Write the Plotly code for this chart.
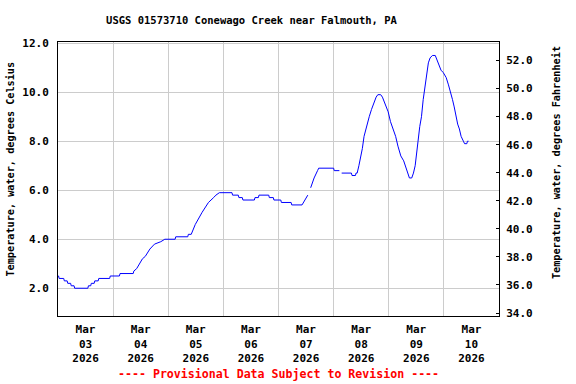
import plotly.graph_objects as go

# ---- data ----
times = [
    "2026-03-03 00:00", "2026-03-03 00:15", "2026-03-03 00:30", "2026-03-03 02:30", "2026-03-03 02:45",
    "2026-03-03 04:00", "2026-03-03 04:15", "2026-03-03 05:30", "2026-03-03 05:45", "2026-03-03 07:00",
    "2026-03-03 07:15", "2026-03-03 13:00", "2026-03-03 13:15", "2026-03-03 14:15", "2026-03-03 14:30",
    "2026-03-03 15:45", "2026-03-03 16:00", "2026-03-03 17:30", "2026-03-03 17:45", "2026-03-03 22:30",
    "2026-03-03 22:45", "2026-03-04 02:45", "2026-03-04 03:00", "2026-03-04 08:45", "2026-03-04 09:00",
    "2026-03-04 10:15", "2026-03-04 12:45", "2026-03-04 14:00", "2026-03-04 16:00", "2026-03-04 17:00",
    "2026-03-04 18:00", "2026-03-04 20:45", "2026-03-04 22:30", "2026-03-05 03:00", "2026-03-05 03:15",
    "2026-03-05 08:30", "2026-03-05 08:45", "2026-03-05 10:00", "2026-03-05 11:45", "2026-03-05 14:45",
    "2026-03-05 17:30", "2026-03-05 19:45", "2026-03-05 20:45", "2026-03-05 22:15", "2026-03-06 03:45",
    "2026-03-06 04:00", "2026-03-06 06:30", "2026-03-06 06:45", "2026-03-06 08:15", "2026-03-06 08:30",
    "2026-03-06 13:30", "2026-03-06 13:45", "2026-03-06 15:15", "2026-03-06 15:30", "2026-03-06 19:45",
    "2026-03-06 20:00", "2026-03-06 21:45", "2026-03-06 22:00", "2026-03-07 01:00", "2026-03-07 01:15",
    "2026-03-07 05:30", "2026-03-07 05:45", "2026-03-07 10:15", "2026-03-07 11:30", "2026-03-07 12:45",
    "2026-03-07 13:15",
    "2026-03-07 14:00", "2026-03-07 15:30", "2026-03-07 17:00", "2026-03-07 17:30", "2026-03-08 00:00",
    "2026-03-08 00:15", "2026-03-08 02:30",
    "2026-03-08 03:00",
    "2026-03-08 03:30", "2026-03-08 07:45", "2026-03-08 08:00", "2026-03-08 09:30", "2026-03-08 09:45",
    "2026-03-08 10:15", "2026-03-08 11:00", "2026-03-08 11:45", "2026-03-08 12:30", "2026-03-08 13:15",
    "2026-03-08 14:00", "2026-03-08 14:45", "2026-03-08 15:30", "2026-03-08 16:30", "2026-03-08 17:30",
    "2026-03-08 18:30", "2026-03-08 19:15", "2026-03-08 20:30", "2026-03-08 21:15", "2026-03-08 22:00",
    "2026-03-08 22:45", "2026-03-08 23:45", "2026-03-09 00:45", "2026-03-09 02:00", "2026-03-09 03:00",
    "2026-03-09 04:00", "2026-03-09 05:15", "2026-03-09 06:30", "2026-03-09 07:30", "2026-03-09 08:30",
    "2026-03-09 09:00", "2026-03-09 10:00", "2026-03-09 10:45", "2026-03-09 11:30", "2026-03-09 12:15",
    "2026-03-09 12:45", "2026-03-09 13:30", "2026-03-09 14:15", "2026-03-09 15:00", "2026-03-09 15:45",
    "2026-03-09 16:30", "2026-03-09 17:15", "2026-03-09 18:00", "2026-03-09 19:00", "2026-03-09 20:15",
    "2026-03-09 21:00", "2026-03-09 22:00", "2026-03-09 22:45", "2026-03-09 23:45", "2026-03-10 01:00",
    "2026-03-10 02:00", "2026-03-10 03:00", "2026-03-10 03:45", "2026-03-10 04:30", "2026-03-10 05:15",
    "2026-03-10 06:00", "2026-03-10 06:45", "2026-03-10 07:30", "2026-03-10 08:30", "2026-03-10 09:00",
    "2026-03-10 10:00", "2026-03-10 10:15", "2026-03-10 10:45",
]
temp_c = [
    2.5, 2.5, 2.4, 2.4, 2.3,
    2.3, 2.2, 2.2, 2.1, 2.1,
    2.0, 2.0, 2.1, 2.1, 2.2,
    2.2, 2.3, 2.3, 2.4, 2.4,
    2.5, 2.5, 2.6, 2.6, 2.7,
    2.8, 3.2, 3.3, 3.6, 3.7,
    3.8, 3.9, 4.0, 4.0, 4.1,
    4.1, 4.2, 4.2, 4.6, 5.1,
    5.5, 5.7, 5.8, 5.9, 5.9,
    5.8, 5.8, 5.7, 5.7, 5.6,
    5.6, 5.7, 5.7, 5.8, 5.8,
    5.7, 5.7, 5.6, 5.6, 5.5,
    5.5, 5.4, 5.4, 5.6, 5.8,
    None,
    6.1, 6.5, 6.8, 6.9, 6.9,
    6.8, 6.8,
    None,
    6.7, 6.7, 6.6, 6.6, 6.7,
    6.7, 7.0, 7.3, 7.7, 8.2,
    8.5, 8.7, 9.0, 9.3, 9.6,
    9.8, 9.9, 9.9, 9.8, 9.6,
    9.4, 9.2, 8.8, 8.5, 8.2,
    7.8, 7.4, 7.2, 6.9, 6.6,
    6.5, 6.5, 6.7, 7.0, 7.5,
    8.0, 8.6, 9.0, 9.7, 10.2,
    10.7, 11.2, 11.4, 11.5, 11.5,
    11.3, 11.1, 10.9, 10.8, 10.6,
    10.3, 10.0, 9.7, 9.4, 9.0,
    8.7, 8.5, 8.2, 8.0, 7.9,
    7.9, 8.0, 8.0,
]

tick_dates = ["2026-03-03 12:00", "2026-03-04 12:00", "2026-03-05 12:00", "2026-03-06 12:00",
              "2026-03-07 12:00", "2026-03-08 12:00", "2026-03-09 12:00", "2026-03-10 12:00"]
tick_labels = ["Mar<br>03<br>2026", "Mar<br>04<br>2026", "Mar<br>05<br>2026", "Mar<br>06<br>2026",
               "Mar<br>07<br>2026", "Mar<br>08<br>2026", "Mar<br>09<br>2026", "Mar<br>10<br>2026"]
x_range = ["2026-03-03 00:00", "2026-03-11 00:00"]
c_range = [0.867, 12.05]
f_range = [33.79, 53.32]

title = "USGS 01573710 Conewago Creek near Falmouth, PA"
left_title = "Temperature, water, degrees Celsius"
right_title = "Temperature, water, degrees Fahrenheit"
footer = "---- Provisional Data Subject to Revision ----"

FONT = "DejaVu Sans Mono"

fig = go.Figure()
fig.add_trace(go.Scatter(x=times, y=temp_c, mode="lines", connectgaps=False,
                         line=dict(color="#0000ff", width=1), showlegend=False,
                         hoverinfo="skip"))
# invisible trace on the Fahrenheit axis so it is drawn
fig.add_trace(go.Scatter(x=[times[0]], y=[None], yaxis="y2", mode="lines",
                         showlegend=False, hoverinfo="skip"))

fig.update_layout(
    width=576, height=384,
    margin=dict(l=58, r=77, t=42, b=68, autoexpand=False),
    paper_bgcolor="white", plot_bgcolor="white",
    font=dict(family=FONT, size=11, color="black", weight="bold"),
    title=dict(text=title, x=251.5 / 576, xanchor="center", xref="container",
               y=1 - 20 / 384, yanchor="middle", yref="container", automargin=False,
               font=dict(family=FONT, size=10.5, color="black", weight="bold")),
    xaxis=dict(type="date", range=x_range, tickvals=tick_dates, ticktext=tick_labels,
               ticks="", showgrid=False, showline=True, linecolor="black", linewidth=1,
               mirror=True, ticklabelstandoff=3, automargin=False,
               tickfont=dict(family=FONT, size=11, color="black", weight="bold"),
               minor=dict(dtick=86400000, tick0="2026-03-03", showgrid=True,
                          gridcolor="#cccccc", gridwidth=1, ticks=""),
               zeroline=False),
    yaxis=dict(range=c_range, tickvals=[2, 4, 6, 8, 10, 12], tickformat=".1f",
               ticks="", showgrid=True, gridcolor="#cccccc", gridwidth=1,
               showline=True, linecolor="black", linewidth=1, mirror=True,
               zeroline=False, ticklabelstandoff=6, automargin=False,
               tickfont=dict(family=FONT, size=11, color="black", weight="bold")),
    yaxis2=dict(range=f_range, overlaying="y", side="right", tickvals=list(range(34, 54, 2)),
                tickformat=".1f", ticks="inside", ticklen=3, tickcolor="black",
                showgrid=False, zeroline=False, showline=True, linecolor="black",
                linewidth=1, ticklabelstandoff=4, automargin=False,
                tickfont=dict(family=FONT, size=11, color="black", weight="bold")),
    annotations=[
        dict(text=left_title, textangle=-90, xref="paper", yref="paper",
             x=-0.107, y=0.5375, xanchor="center", yanchor="middle", showarrow=False,
             font=dict(family=FONT, size=10.2, color="black", weight="bold")),
        dict(text=right_title, textangle=-90, xref="paper", yref="paper",
             x=1.132, y=0.559, xanchor="center", yanchor="middle", showarrow=False,
             font=dict(family=FONT, size=10.2, color="black", weight="bold")),
        dict(text=footer, xref="paper", yref="paper", x=0.5, y=-0.212,
             xanchor="center", yanchor="middle", showarrow=False,
             font=dict(family=FONT, size=11.6, color="#ff0000", weight="bold")),
    ],
)

fig.write_html("out.html", config={"displayModeBar": False},
               post_script="document.body.style.margin='0';document.body.style.overflow='hidden';")
